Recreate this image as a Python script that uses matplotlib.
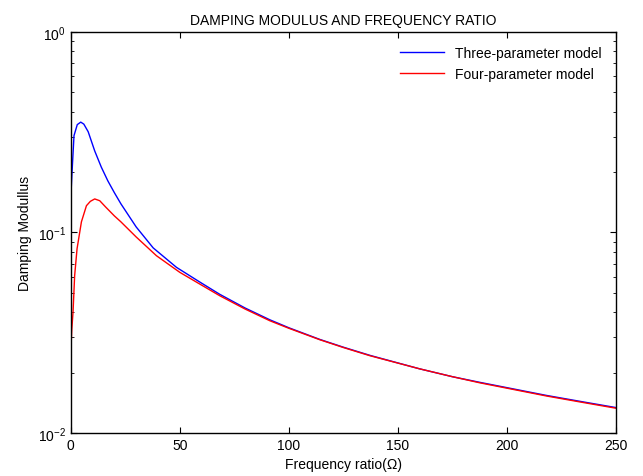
import matplotlib
matplotlib.use("Agg")
import matplotlib.pyplot as plt
from matplotlib.ticker import LogLocator, NullFormatter

plt.rcParams['font.family'] = ['Liberation Sans', 'DejaVu Sans']
plt.rcParams['mathtext.fontset'] = 'custom'
plt.rcParams['mathtext.rm'] = 'Liberation Sans'

# values
x_three = [0, 0.6, 1.5, 3, 4.6, 6, 8, 11, 14, 17, 20, 23, 30, 37.8,
           48.5, 59.2, 68.3, 80, 91.3, 100, 114.2, 125, 137.2, 160, 175,
           187.6, 218.2, 235, 250]
three_param = [0.147, 0.2, 0.304, 0.345, 0.355, 0.347, 0.318, 0.255, 0.212, 0.181,
               0.158, 0.139, 0.1066, 0.0838, 0.067, 0.0566, 0.0492, 0.042, 0.0367,
               0.0335, 0.0293, 0.0268, 0.0244, 0.0209, 0.0191,
               0.0179, 0.0154, 0.0143, 0.0134]

x_four = [0, 0.5, 1.05, 1.8, 2.9, 4.9, 7.2, 9, 11, 13.3, 16, 20, 23, 30,
          39.3, 50, 59.2, 68.3, 80, 91.3, 100, 114.2, 125, 137.2, 160, 175,
          187.6, 218.2, 235, 250]
four_param = [0.0252, 0.033, 0.040, 0.061, 0.083, 0.113, 0.136, 0.143, 0.147,
              0.144, 0.134, 0.121, 0.113, 0.095, 0.0766, 0.0633, 0.0553, 0.0484,
              0.0415, 0.0363, 0.0333, 0.0292, 0.0267, 0.0243, 0.0209, 0.0191,
              0.0178, 0.0153, 0.0142, 0.0133]

fig = plt.figure(figsize=(6.43, 4.77), dpi=100)
ax = fig.add_axes([0.110, 0.090, 0.848, 0.841])

ax.semilogy(x_three, three_param, c='b', lw=1.0, label='Three-parameter model')
ax.semilogy(x_four, four_param, c='r', lw=1.0, label='Four-parameter model')

ax.set_xlim(0, 250)
ax.set_ylim(1e-2, 1e0)
ax.set_xticks([0, 50, 100, 150, 200, 250])
ax.yaxis.set_major_locator(LogLocator(base=10, numticks=5))
ax.yaxis.set_minor_locator(LogLocator(base=10, subs=range(2, 10), numticks=20))
ax.yaxis.set_minor_formatter(NullFormatter())

ax.tick_params(which='both', direction='in', top=True, right=True, labelsize=10)
ax.tick_params(which='major', length=4, width=0.8)
ax.tick_params(which='minor', length=2, width=0.6)
for s in ax.spines.values():
    s.set_linewidth(1.0)

ax.set_title("DAMPING MODULUS AND FREQUENCY RATIO", fontsize=10)
ax.set_xlabel("Frequency ratio(\u03a9)", fontsize=10)
ax.set_ylabel("Damping Modullus", fontsize=10)

ax.legend(loc='upper right', frameon=False, fontsize=10, handlelength=3.2,
          borderaxespad=0.6, labelspacing=0.5)

plt.savefig("out.png", dpi=100)
